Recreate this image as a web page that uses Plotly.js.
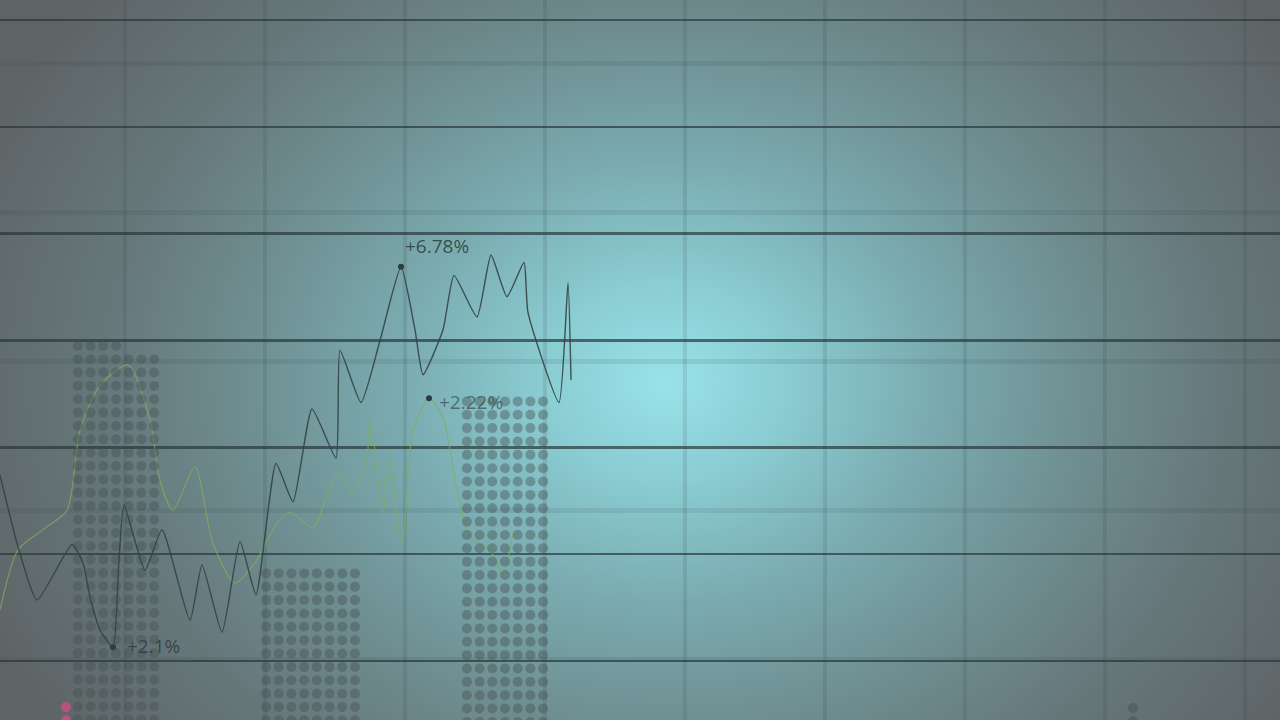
<!DOCTYPE html>
<html>
<head>
<meta charset="utf-8">
<script src="https://cdn.plot.ly/plotly-3.0.1.min.js"></script>
<style>
  html, body { margin: 0; padding: 0; width: 1280px; height: 720px; overflow: hidden; background: #5f6567; }
  #chart {
    width: 1280px; height: 720px;
    background: radial-gradient(ellipse 58% 85% at 52% 53%, #9ae2e9 0%, #8acdd3 16%, #7aabb0 36%, #6f8f92 56%, #66777a 76%, #5e6466 100%);
  }
</style>
</head>
<body>
<div id="chart"></div>
<script>
// ---- data ----
// dark series (time index, value)
const darkX = [0, 18, 37, 72, 83, 90, 100, 113, 119, 124, 145, 162, 190, 202, 222, 240, 256,
               276, 293, 312, 336, 340, 361, 380, 401, 415, 423, 443, 454, 477, 491, 507, 524, 528, 559, 568, 571];
const darkY = [1.74, 1.07, 0.57, 1.09, 0.92, 0.60, 0.29, 0.13, 0.95, 1.46, 0.85, 1.23, 0.38, 0.90, 0.27, 1.12, 0.62,
               1.85, 1.49, 2.36, 1.90, 2.91, 2.42, 3.00, 3.69, 3.10, 2.68, 3.10, 3.61, 3.22, 3.80, 3.41, 3.73, 3.26, 2.42, 3.54, 2.63];

// green series
const greenX = [0, 18, 43, 67, 80, 100, 128, 150, 160, 173, 195, 213, 235, 255, 277, 290,
                313, 337, 352, 367, 370, 383, 389, 402, 413, 429, 443, 457, 470, 490, 503, 513];
const greenY = [0.48, 1.04, 1.23, 1.41, 2.16, 2.58, 2.77, 2.26, 1.69, 1.41, 1.82, 1.10, 0.73, 0.92, 1.29, 1.39,
                1.25, 1.76, 1.57, 1.91, 2.32, 1.37, 1.91, 1.07, 2.16, 2.46, 2.28, 1.60, 1.16, 1.04, 0.82, 1.20];

// dotted bars
const barX = [66, 116, 310.5, 505, 1133];
const barValue = [-0.43, 2.95, 0.82, 2.43, -0.44];
const barBaseline = -0.6;

// labelled points
const labelX = [401, 429, 113];
const labelY = [3.69, 2.46, 0.13];
const labelText = ['+6.78%', '+2.22%', '+2.1%'];

// ---- styles ----
const barDotsPerRow = [1, 7, 8, 7, 1];
const barTopRowDots = [1, 4, 8, 7, 1];
const barColors = ['rgba(200,80,130,0.85)', 'rgba(70,80,82,0.42)', 'rgba(70,80,82,0.42)', 'rgba(70,80,82,0.42)', 'rgba(70,80,82,0.5)'];
const dotPitchX = 12.7;
const dotPitchY = 0.125;

const traces = [];

// green line (behind dots)
traces.push({
  x: greenX, y: greenY, type: 'scatter', mode: 'lines',
  line: { color: 'rgba(125,175,95,0.75)', width: 1.2, shape: 'spline', smoothing: 0.7 },
  hoverinfo: 'skip'
});

// dots built from bar values
barX.forEach((cx, b) => {
  const xs = [], ys = [];
  let row = 0;
  for (let y = barValue[b]; y >= barBaseline; y -= dotPitchY, row++) {
    const n = barDotsPerRow[b];
    const count = row === 0 ? barTopRowDots[b] : n;
    for (let i = 0; i < count; i++) {
      xs.push(cx + (i - (n - 1) / 2) * dotPitchX);
      ys.push(y);
    }
  }
  traces.push({
    x: xs, y: ys, type: 'scatter', mode: 'markers',
    marker: { color: barColors[b], size: 10, line: { width: 0 } },
    hoverinfo: 'skip'
  });
});

// dark line
traces.push({
  x: darkX, y: darkY, type: 'scatter', mode: 'lines',
  line: { color: 'rgba(52,66,68,0.9)', width: 1.4, shape: 'spline', smoothing: 0.5 },
  hoverinfo: 'skip'
});

// labelled point markers
traces.push({
  x: labelX, y: labelY, type: 'scatter', mode: 'markers',
  marker: { color: '#2f3d3f', size: 6 },
  hoverinfo: 'skip'
});

// dummy trace for secondary faint grid
traces.push({ x: [], y: [], type: 'scatter', yaxis: 'y2', hoverinfo: 'skip' });

const annotations = labelX.map((x, i) => ({
  x: x, y: labelY[i], text: labelText[i], showarrow: false,
  xanchor: 'left', yanchor: i === 0 ? 'bottom' : 'middle',
  xshift: i === 0 ? 2 : (i === 1 ? 8 : 12), yshift: i === 0 ? 6 : (i === 1 ? -4 : 1),
  font: { family: 'Open Sans, sans-serif', size: 19, color: i === 1 ? 'rgba(55,72,76,0.7)' : 'rgba(45,60,62,0.85)' }
}));

const layout = {
  width: 1280, height: 720,
  margin: { l: 0, r: 0, t: 0, b: 0, pad: 0 },
  paper_bgcolor: 'rgba(0,0,0,0)', plot_bgcolor: 'rgba(0,0,0,0)',
  showlegend: false,
  xaxis: {
    range: [0, 1280], tick0: 125, dtick: 140, showgrid: true,
    gridcolor: 'rgba(45,65,68,0.13)', gridwidth: 4,
    showticklabels: false, ticks: '', zeroline: false, showline: false
  },
  yaxis: {
    range: [-0.552, 6.187], tick0: 0, dtick: 1, showgrid: true,
    gridcolor: 'rgba(40,55,57,0.7)', gridwidth: 2.5,
    showticklabels: false, ticks: '', zeroline: false, showline: false
  },
  yaxis2: {
    overlaying: 'y', range: [-0.409, 4.423], tick0: 0, dtick: 1, showgrid: true,
    gridcolor: 'rgba(45,65,68,0.11)', gridwidth: 5,
    showticklabels: false, ticks: '', zeroline: false, showline: false
  },
  annotations: annotations
};

Plotly.newPlot('chart', traces, layout, { staticPlot: true, displayModeBar: false });
</script>
</body>
</html>
